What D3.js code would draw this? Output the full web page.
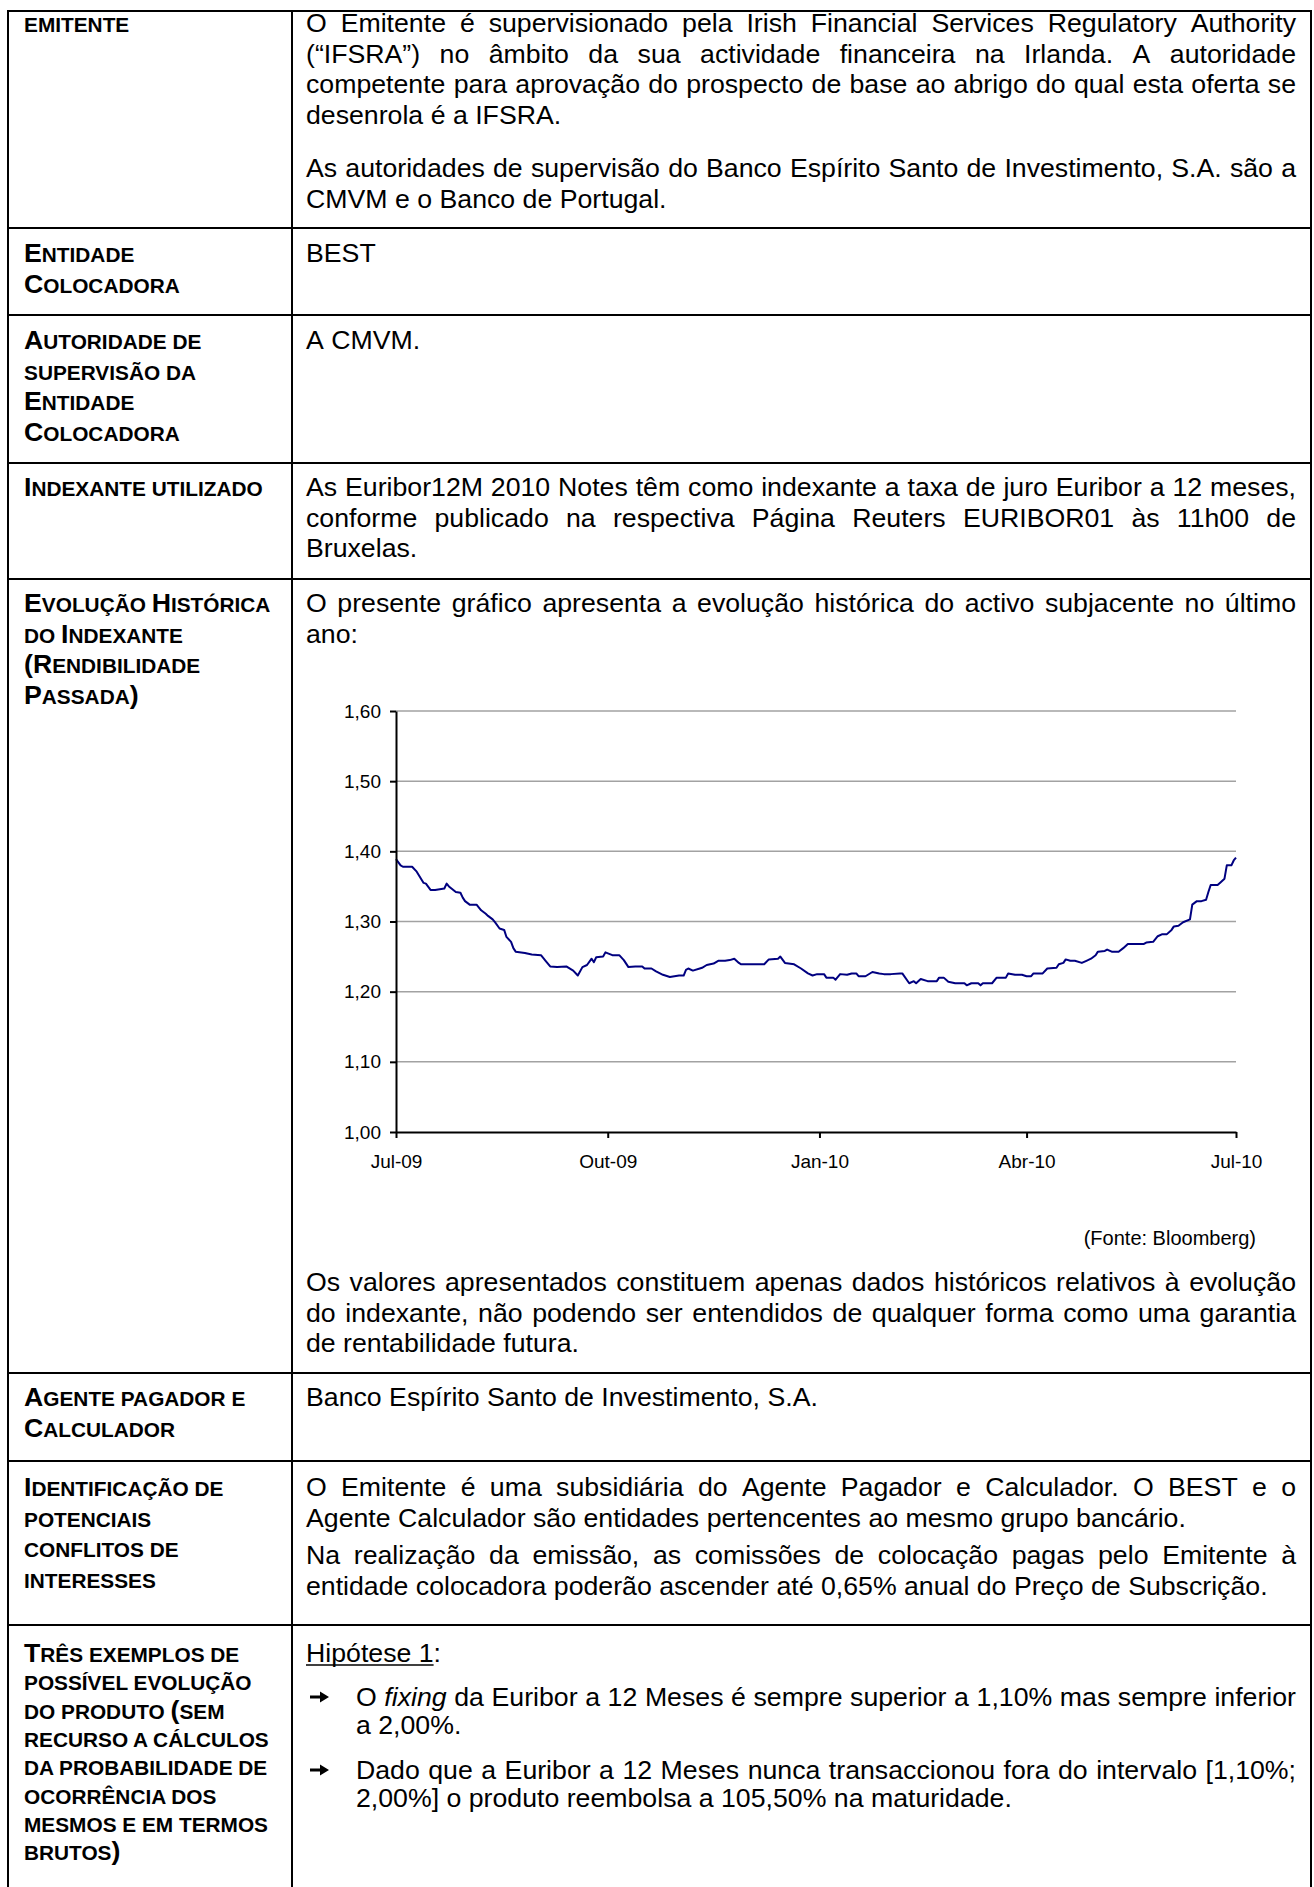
<!DOCTYPE html>
<html>
<head>
<meta charset="utf-8">
<script src="https://cdn.jsdelivr.net/npm/d3@7"></script>
<style>
  body { margin: 0; background: #fff; }
  svg text { font-family: "Liberation Sans", Arial, sans-serif; fill: #000; }
</style>
</head>
<body>
<svg id="page" width="1314" height="1887"></svg>
<script>
// Euribor 12M fixings, Jul-09 .. Jul-10
const dates = [
  "2009-07-01","2009-07-03","2009-07-04","2009-07-08","2009-07-10","2009-07-13","2009-07-14","2009-07-16",
  "2009-07-18","2009-07-22","2009-07-23","2009-07-24","2009-07-27","2009-07-29","2009-07-30","2009-07-31",
  "2009-08-02","2009-08-05","2009-08-07","2009-08-09","2009-08-10","2009-08-12","2009-08-13","2009-08-15",
  "2009-08-17","2009-08-18","2009-08-20","2009-08-21","2009-08-22","2009-08-26","2009-08-29","2009-09-02",
  "2009-09-04","2009-09-06","2009-09-09","2009-09-13","2009-09-16","2009-09-18","2009-09-20","2009-09-22",
  "2009-09-24","2009-09-25","2009-09-26","2009-09-29","2009-09-30","2009-10-03","2009-10-06","2009-10-08",
  "2009-10-10","2009-10-13","2009-10-16","2009-10-17","2009-10-20","2009-10-22","2009-10-25","2009-10-28",
  "2009-11-01","2009-11-03","2009-11-04","2009-11-05","2009-11-07","2009-11-10","2009-11-11","2009-11-13",
  "2009-11-16","2009-11-18","2009-11-21","2009-11-23","2009-11-25","2009-11-27","2009-11-28","2009-12-08",
  "2009-12-10","2009-12-14","2009-12-15","2009-12-17","2009-12-21","2009-12-24","2009-12-27","2009-12-29",
  "2009-12-31","2010-01-03","2010-01-04","2010-01-07","2010-01-08","2010-01-10","2010-01-13","2010-01-15",
  "2010-01-17","2010-01-18","2010-01-21","2010-01-24","2010-01-27","2010-01-29","2010-02-01","2010-02-05",
  "2010-02-06","2010-02-09","2010-02-11","2010-02-12","2010-02-14","2010-02-17","2010-02-21","2010-02-22",
  "2010-02-24","2010-02-26","2010-03-01","2010-03-05","2010-03-06","2010-03-08","2010-03-11","2010-03-12",
  "2010-03-13","2010-03-17","2010-03-19","2010-03-23","2010-03-24","2010-03-27","2010-03-30","2010-04-01",
  "2010-04-03","2010-04-04","2010-04-08","2010-04-10","2010-04-14","2010-04-15","2010-04-17","2010-04-18",
  "2010-04-20","2010-04-22","2010-04-25","2010-04-27","2010-04-29","2010-05-01","2010-05-02","2010-05-05",
  "2010-05-06","2010-05-08","2010-05-11","2010-05-13","2010-05-15","2010-05-22","2010-05-23","2010-05-26",
  "2010-05-28","2010-05-30","2010-06-01","2010-06-03","2010-06-04","2010-06-06","2010-06-08","2010-06-11",
  "2010-06-12","2010-06-14","2010-06-16","2010-06-18","2010-06-19","2010-06-20","2010-06-23","2010-06-24",
  "2010-06-26","2010-06-27","2010-06-29","2010-06-30","2010-07-01"
];
const euribor = [
  1.389,1.380,1.378,1.378,1.371,1.355,1.354,1.345,
  1.345,1.347,1.354,1.350,1.342,1.341,1.334,1.329,
  1.324,1.324,1.316,1.311,1.308,1.303,1.299,1.290,
  1.288,1.278,1.271,1.262,1.257,1.255,1.253,1.252,
  1.244,1.236,1.235,1.236,1.230,1.223,1.235,1.238,
  1.247,1.242,1.249,1.250,1.256,1.252,1.252,1.245,
  1.235,1.236,1.236,1.233,1.233,1.229,1.224,1.221,
  1.223,1.223,1.231,1.233,1.230,1.233,1.234,1.238,
  1.240,1.244,1.244,1.245,1.247,1.241,1.239,1.239,
  1.246,1.247,1.250,1.241,1.239,1.233,1.226,1.223,
  1.225,1.225,1.220,1.220,1.217,1.225,1.224,1.226,
  1.226,1.222,1.222,1.228,1.226,1.225,1.225,1.226,
  1.226,1.212,1.215,1.212,1.218,1.215,1.215,1.220,
  1.220,1.214,1.212,1.212,1.209,1.212,1.212,1.209,
  1.212,1.212,1.220,1.220,1.226,1.224,1.224,1.222,
  1.222,1.226,1.226,1.233,1.234,1.239,1.241,1.246,
  1.244,1.244,1.241,1.244,1.247,1.252,1.257,1.258,
  1.260,1.257,1.257,1.262,1.268,1.268,1.270,1.271,
  1.279,1.282,1.282,1.288,1.293,1.294,1.299,1.303,
  1.324,1.329,1.329,1.331,1.342,1.352,1.352,1.355,
  1.361,1.380,1.380,1.387,1.391
];
const yTicks = [1.0, 1.1, 1.2, 1.3, 1.4, 1.5, 1.6];
const xTickDates = ["2009-07-01", "2009-10-01", "2010-01-01", "2010-04-01", "2010-07-01"];
const xTickLabels = ["Jul-09", "Out-09", "Jan-10", "Abr-10", "Jul-10"];

// left column labels (capital letter = full cap, lower case = small cap)
const rowLabels = [
  ["emitente"],
  ["Entidade", "Colocadora"],
  ["Autoridade de", "supervisão da", "Entidade", "Colocadora"],
  ["Indexante utilizado"],
  ["Evolução Histórica", "do Indexante", "(Rendibilidade", "Passada)"],
  ["Agente pagador e", "Calculador"],
  ["Identificação de", "potenciais", "conflitos de", "interesses"],
  ["Três exemplos de", "possível evolução", "do produto (sem", "recurso a cálculos",
   "da probabilidade de", "ocorrência dos", "mesmos e em termos", "brutos)"]
];

const emitenteText1 = [
  "O Emitente é supervisionado pela Irish Financial Services Regulatory Authority",
  "(“IFSRA”) no âmbito da sua actividade financeira na Irlanda. A autoridade",
  "competente para aprovação do prospecto de base ao abrigo do qual esta oferta se",
  "desenrola é a IFSRA."
];
const emitenteText2 = [
  "As autoridades de supervisão do Banco Espírito Santo de Investimento, S.A. são a",
  "CMVM e o Banco de Portugal."
];
const indexanteText = [
  "As Euribor12M 2010 Notes têm como indexante a taxa de juro Euribor a 12 meses,",
  "conforme publicado na respectiva Página Reuters EURIBOR01 às 11h00 de",
  "Bruxelas."
];
const chartIntro = [
  "O presente gráfico apresenta a evolução histórica do activo subjacente no último",
  "ano:"
];
const chartNote = [
  "Os valores apresentados constituem apenas dados históricos relativos à evolução",
  "do indexante, não podendo ser entendidos de qualquer forma como uma garantia",
  "de rentabilidade futura."
];
const conflitos1 = [
  "O Emitente é uma subsidiária do Agente Pagador e Calculador. O BEST e o",
  "Agente Calculador são entidades pertencentes ao mesmo grupo bancário."
];
const conflitos2 = [
  "Na realização da emissão, as comissões de colocação pagas pelo Emitente à",
  "entidade colocadora poderão ascender até 0,65% anual do Preço de Subscrição."
];
const bullet1 = [
  "O *fixing* da Euribor a 12 Meses é sempre superior a 1,10% mas sempre inferior",
  "a 2,00%."
];
const bullet2 = [
  "Dado que a Euribor a 12 Meses nunca transaccionou fora do intervalo [1,10%;",
  "2,00%] o produto reembolsa a 105,50% na maturidade."
];

const svg = d3.select("#page");
svg.append("rect").attr("width", 1314).attr("height", 1887).attr("fill", "#fff");

const BODY = 26.7, LH = 30.7, SMALL = 0.78;
const X0 = 306, X1 = 1296, LABEL_X = 24;

const meas = svg.append("text").style("visibility", "hidden");
function wordWidth(t, size, italic) {
  meas.attr("font-size", size).attr("font-style", italic ? "italic" : "normal").text(t);
  return meas.node().getComputedTextLength();
}

const body = svg.append("g").attr("font-size", BODY);

function textLine(line, x0, x1, y, justify) {
  const words = line.split(" ").map(w => ({ t: w.replace(/\*/g, ""), it: w.startsWith("*") }));
  words.forEach(w => (w.w = wordWidth(w.t, BODY, w.it)));
  const gap = justify && words.length > 1
    ? (x1 - x0 - d3.sum(words, w => w.w)) / (words.length - 1)
    : 0.278 * BODY;
  let x = x0;
  words.forEach(w => {
    body.append("text").attr("x", x).attr("y", y)
      .attr("font-style", w.it ? "italic" : null).text(w.t);
    x += w.w + gap;
  });
}

function paragraph(lines, x0, x1, y, lh) {
  lines.forEach((l, i) => textLine(l, x0, x1, y + i * lh, i < lines.length - 1));
}

const labels = svg.append("g").attr("font-weight", "bold");
function label(lines, y, lh) {
  lines.forEach((l, i) => {
    const t = labels.append("text").attr("x", LABEL_X).attr("y", y + i * lh).style("white-space", "pre");
    const runs = [];
    for (const ch of l) {
      const isLetter = /\p{L}/u.test(ch);
      const big = (isLetter && ch !== ch.toLowerCase()) || (!isLetter && ch !== " ");
      const s = big ? BODY : BODY * SMALL;
      const last = runs[runs.length - 1];
      if (last && last.s === s) last.t += ch.toUpperCase();
      else runs.push({ t: ch.toUpperCase(), s });
    }
    runs.forEach(r => t.append("tspan").attr("font-size", r.s).text(r.t));
  });
}

// table frame
const rowTops = [11, 228, 315, 463, 579, 1373, 1461, 1625];
const frame = svg.append("g").attr("stroke", "#000").attr("stroke-width", 2);
rowTops.forEach(yy => frame.append("line").attr("x1", 7).attr("x2", 1312).attr("y1", yy).attr("y2", yy));
[8, 292, 1311].forEach(xx => frame.append("line").attr("x1", xx).attr("x2", xx).attr("y1", 10).attr("y2", 1887));

// labels
const labelTops = [32, 262, 349, 496, 612, 1406, 1496, 1662];
rowLabels.forEach((r, i) => label(r, labelTops[i], i === 7 ? 28.3 : LH));

// right column text
paragraph(emitenteText1, X0, X1, 32, LH);
paragraph(emitenteText2, X0, X1, 177, LH);
paragraph(["BEST"], X0, X1, 262, LH);
paragraph(["A CMVM."], X0, X1, 349, LH);
paragraph(indexanteText, X0, X1, 496, LH);
paragraph(chartIntro, X0, X1, 612, LH);
paragraph(chartNote, X0, X1, 1291, LH);
paragraph(["Banco Espírito Santo de Investimento, S.A."], X0, X1, 1406, LH);
paragraph(conflitos1, X0, X1, 1496, LH);
paragraph(conflitos2, X0, X1, 1564, LH);

// Hipótese 1
const hip = body.append("text").attr("x", X0).attr("y", 1662);
hip.append("tspan").text("Hipótese 1");
hip.append("tspan").text(":");
const hipW = wordWidth("Hipótese 1", BODY, false);
body.append("line").attr("x1", X0).attr("x2", X0 + hipW).attr("y1", 1665).attr("y2", 1665)
  .attr("stroke", "#000").attr("stroke-width", 1.5);

// arrow bullets
[[bullet1, 1706], [bullet2, 1779]].forEach(([lines, yy]) => {
  const cy = yy - 9;
  svg.append("path")
    .attr("d", `M310,${cy - 1.6}H320V${cy - 5.5}L329,${cy}L320,${cy + 5.5}V${cy + 1.6}H310Z`)
    .attr("fill", "#000");
  paragraph(lines, 356, X1, yy, 27.7);
});

// ---- chart ----
const parseDate = d3.utcParse("%Y-%m-%d");
const series = dates.map((d, i) => ({ date: parseDate(d), value: euribor[i] }));

const xScale = d3.scaleUtc()
  .domain([parseDate(xTickDates[0]), parseDate(xTickDates[xTickDates.length - 1])])
  .range([396, 1236]);
const yScale = d3.scaleLinear().domain([1.0, 1.6]).range([1132, 711]);

const chart = svg.append("g").attr("class", "chart");

chart.append("g").attr("class", "grid")
  .selectAll("line")
  .data(yTicks.filter(d => d > 1.0))
  .join("line")
  .attr("x1", xScale.range()[0]).attr("x2", xScale.range()[1])
  .attr("y1", d => yScale(d)).attr("y2", d => yScale(d))
  .attr("stroke", "#a2a2a2").attr("stroke-width", 1.5);

const line = d3.line().x(d => xScale(d.date)).y(d => yScale(d.value));
chart.append("path").datum(series)
  .attr("fill", "none").attr("stroke", "#000080").attr("stroke-width", 2)
  .attr("stroke-linejoin", "round")
  .attr("d", line);

const yAxis = chart.append("g")
  .attr("transform", `translate(${xScale.range()[0]},0)`)
  .call(d3.axisLeft(yScale).tickValues(yTicks).tickSize(6).tickSizeOuter(0).tickPadding(9)
    .tickFormat(d => d3.format(".2f")(d).replace(".", ",")));

const xAxis = chart.append("g")
  .attr("transform", `translate(0,${yScale(1.0)})`)
  .call(d3.axisBottom(xScale).tickValues(xTickDates.map(parseDate)).tickSize(6).tickSizeOuter(0).tickPadding(17)
    .tickFormat((d, i) => xTickLabels[i]));

[yAxis, xAxis].forEach(a => {
  a.attr("font-family", null).attr("font-size", 19);
  a.selectAll("path, line").attr("stroke", "#000").attr("stroke-width", 2);
  a.selectAll("text").attr("fill", "#000");
});

chart.append("text").attr("x", 1256).attr("y", 1245).attr("text-anchor", "end")
  .attr("font-size", 20).text("(Fonte: Bloomberg)");
</script>
</body>
</html>
